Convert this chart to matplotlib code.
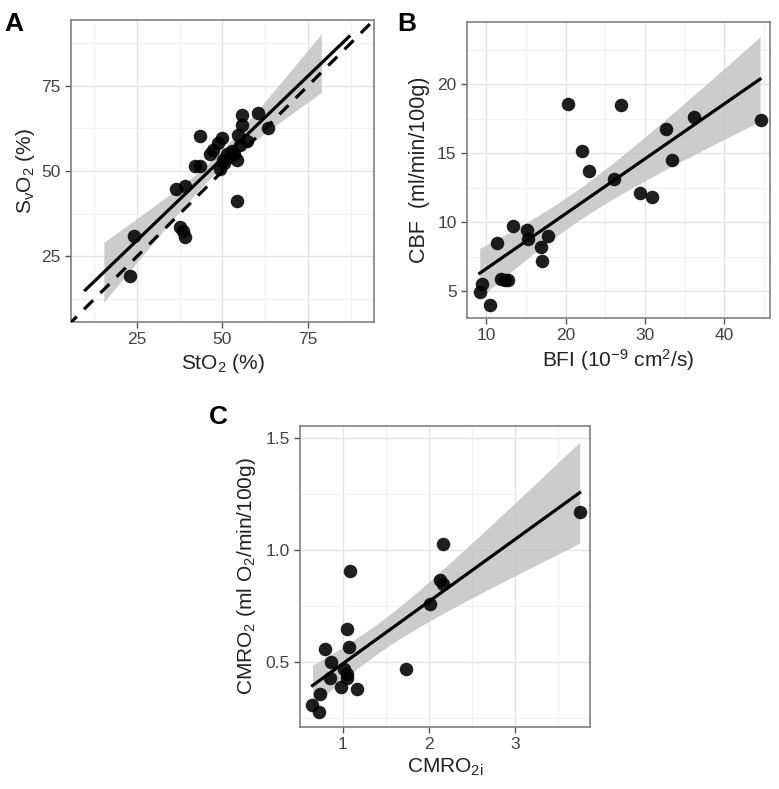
import numpy as np
import matplotlib
matplotlib.use("Agg")
import matplotlib.pyplot as plt
from matplotlib.ticker import MultipleLocator

plt.rcParams['font.family'] = ['Liberation Sans', 'DejaVu Sans']
plt.rcParams['mathtext.fontset'] = 'custom'
plt.rcParams['mathtext.rm'] = 'Liberation Sans'
plt.rcParams['mathtext.it'] = 'Liberation Sans'

# panel A: StO2 vs SvO2
sto2 = [23.0, 24.0, 36.5, 39.1, 37.6, 38.4, 39.1, 42.0, 43.5, 43.3,
        46.4, 47.3, 48.8, 49.8, 49.3, 50.2, 51.2, 52.7, 54.2, 55.1,
        57.1, 54.6, 55.6, 55.6, 60.5, 63.4, 54.2, 50.3, 53.5]
svo2 = [19.4, 31.1, 44.7, 45.6, 33.5, 32.5, 30.8, 51.5, 51.5, 60.2,
        54.9, 56.3, 58.3, 59.7, 50.5, 53.4, 54.9, 55.8, 53.4, 57.8,
        58.8, 60.7, 63.6, 66.5, 67.0, 62.7, 41.3, 52.4, 55.0]
# regression line as printed in panel A (intercept, slope)
fitA = (5.64, 0.963)

# panel B: BFI vs CBF
bfi = [20.3, 27.0, 44.6, 36.2, 32.7, 33.4, 22.0, 23.0, 26.1, 29.4,
       30.9, 13.4, 15.1, 15.3, 17.8, 16.9, 17.0, 11.3, 11.9, 12.3,
       12.7, 9.4, 9.2, 10.4]
cbf = [18.6, 18.5, 17.4, 17.6, 16.8, 14.5, 15.2, 13.7, 13.1, 12.1,
       11.8, 9.7, 9.4, 8.8, 9.0, 8.2, 7.2, 8.5, 5.9, 5.8,
       5.8, 5.5, 4.9, 4.0]

# panel C: CMRO2i vs CMRO2
cmro2i = [3.75, 2.17, 2.13, 2.16, 2.01, 1.08, 1.05, 1.07, 0.80, 0.87,
          1.01, 1.05, 1.05, 0.85, 0.98, 1.17, 0.74, 0.65, 0.73, 1.74]
cmro2 = [1.17, 1.03, 0.87, 0.85, 0.76, 0.91, 0.65, 0.57, 0.56, 0.50,
         0.47, 0.45, 0.43, 0.43, 0.39, 0.38, 0.36, 0.31, 0.28, 0.47]


def fit_band(x, y, xs, coef=None, t=2.05):
    x = np.asarray(x)
    y = np.asarray(y)
    n = len(x)
    b, a = np.polyfit(x, y, 1)
    resid = y - (a + b * x)
    s = np.sqrt(np.sum(resid ** 2) / (n - 2))
    sxx = np.sum((x - x.mean()) ** 2)
    se = s * np.sqrt(1.0 / n + (xs - x.mean()) ** 2 / sxx)
    if coef is not None:
        a, b = coef
    yhat = a + b * xs
    return a, b, yhat - t * se, yhat + t * se


def style(ax, xlim, ylim, xmaj, ymaj):
    ax.set_xlim(xlim)
    ax.set_ylim(ylim)
    ax.xaxis.set_major_locator(MultipleLocator(xmaj))
    ax.yaxis.set_major_locator(MultipleLocator(ymaj))
    ax.xaxis.set_minor_locator(MultipleLocator(xmaj / 2))
    ax.yaxis.set_minor_locator(MultipleLocator(ymaj / 2))
    ax.grid(which='major', color='#e3e3e3', lw=1.0, zorder=0)
    ax.grid(which='minor', color='#f2f2f2', lw=0.8, zorder=0)
    ax.set_axisbelow(True)
    ax.tick_params(which='major', direction='out', length=4, width=1,
                   color='#555555', labelcolor='#444444', labelsize=12.5)
    ax.tick_params(which='minor', length=0)
    for sp in ax.spines.values():
        sp.set_color('#808080')
        sp.set_linewidth(1.2)


def draw(ax, x, y, band_rng, line_rng, coef=None):
    xs = np.linspace(band_rng[0], band_rng[1], 100)
    a, b, lo, hi = fit_band(x, y, xs, coef)
    ax.fill_between(xs, lo, hi, color='#c4c4c4', alpha=0.85, lw=0, zorder=2)
    xl = np.array(line_rng)
    ax.plot(xl, a + b * xl, color='black', lw=2.3, zorder=3)
    ax.scatter(x, y, s=95, color='black', alpha=0.88, lw=0, zorder=4)


fig = plt.figure(figsize=(7.79, 7.89), dpi=100)

axA = fig.add_axes([0.0911, 0.5919, 0.389, 0.3828])
style(axA, (5.7, 94.3), (5.8, 94.3), 25, 25)
draw(axA, sto2, svo2, (15.3, 78.9), (9.9, 87.0), coef=fitA)
axA.plot([0, 100], [0, 100], color='black', lw=2.3, ls=(0, (4, 3.2)), zorder=3)
axA.set_xlabel('StO$_2$ (%)', fontsize=15, color='#222222', labelpad=3)
axA.set_ylabel('S$_\\mathrm{v}$O$_2$ (%)', fontsize=15, color='#222222', labelpad=3)

axB = fig.add_axes([0.5995, 0.597, 0.389, 0.3752])
style(axB, (7.56, 45.76), (3.04, 24.54), 10, 5)
draw(axB, bfi, cbf, (9.16, 44.5), (9.16, 44.5))
axB.set_xlabel('BFI (10$^{-9}$ cm$^2$/s)', fontsize=15, color='#222222', labelpad=3)
axB.set_ylabel('CBF  (ml/min/100g)', fontsize=15.5, color='#222222', labelpad=5)

axC = fig.add_axes([0.3851, 0.0786, 0.3723, 0.3815])
style(axC, (0.505, 3.87), (0.212, 1.555), 1, 0.5)
axC.yaxis.set_major_formatter(matplotlib.ticker.FormatStrFormatter('%.1f'))
draw(axC, cmro2i, cmro2, (0.65, 3.75), (0.65, 3.75))
axC.set_xlabel('CMRO$_{2i}$', fontsize=15, color='#222222', labelpad=3)
axC.set_ylabel('CMRO$_2$ (ml O$_2$/min/100g)', fontsize=15, color='#222222', labelpad=5)

fig.text(0.006, 0.985, 'A', fontsize=19, fontweight='bold', va='top')
fig.text(0.510, 0.985, 'B', fontsize=19, fontweight='bold', va='top')
fig.text(0.268, 0.487, 'C', fontsize=19, fontweight='bold', va='top')

fig.savefig('out.png', dpi=100)
